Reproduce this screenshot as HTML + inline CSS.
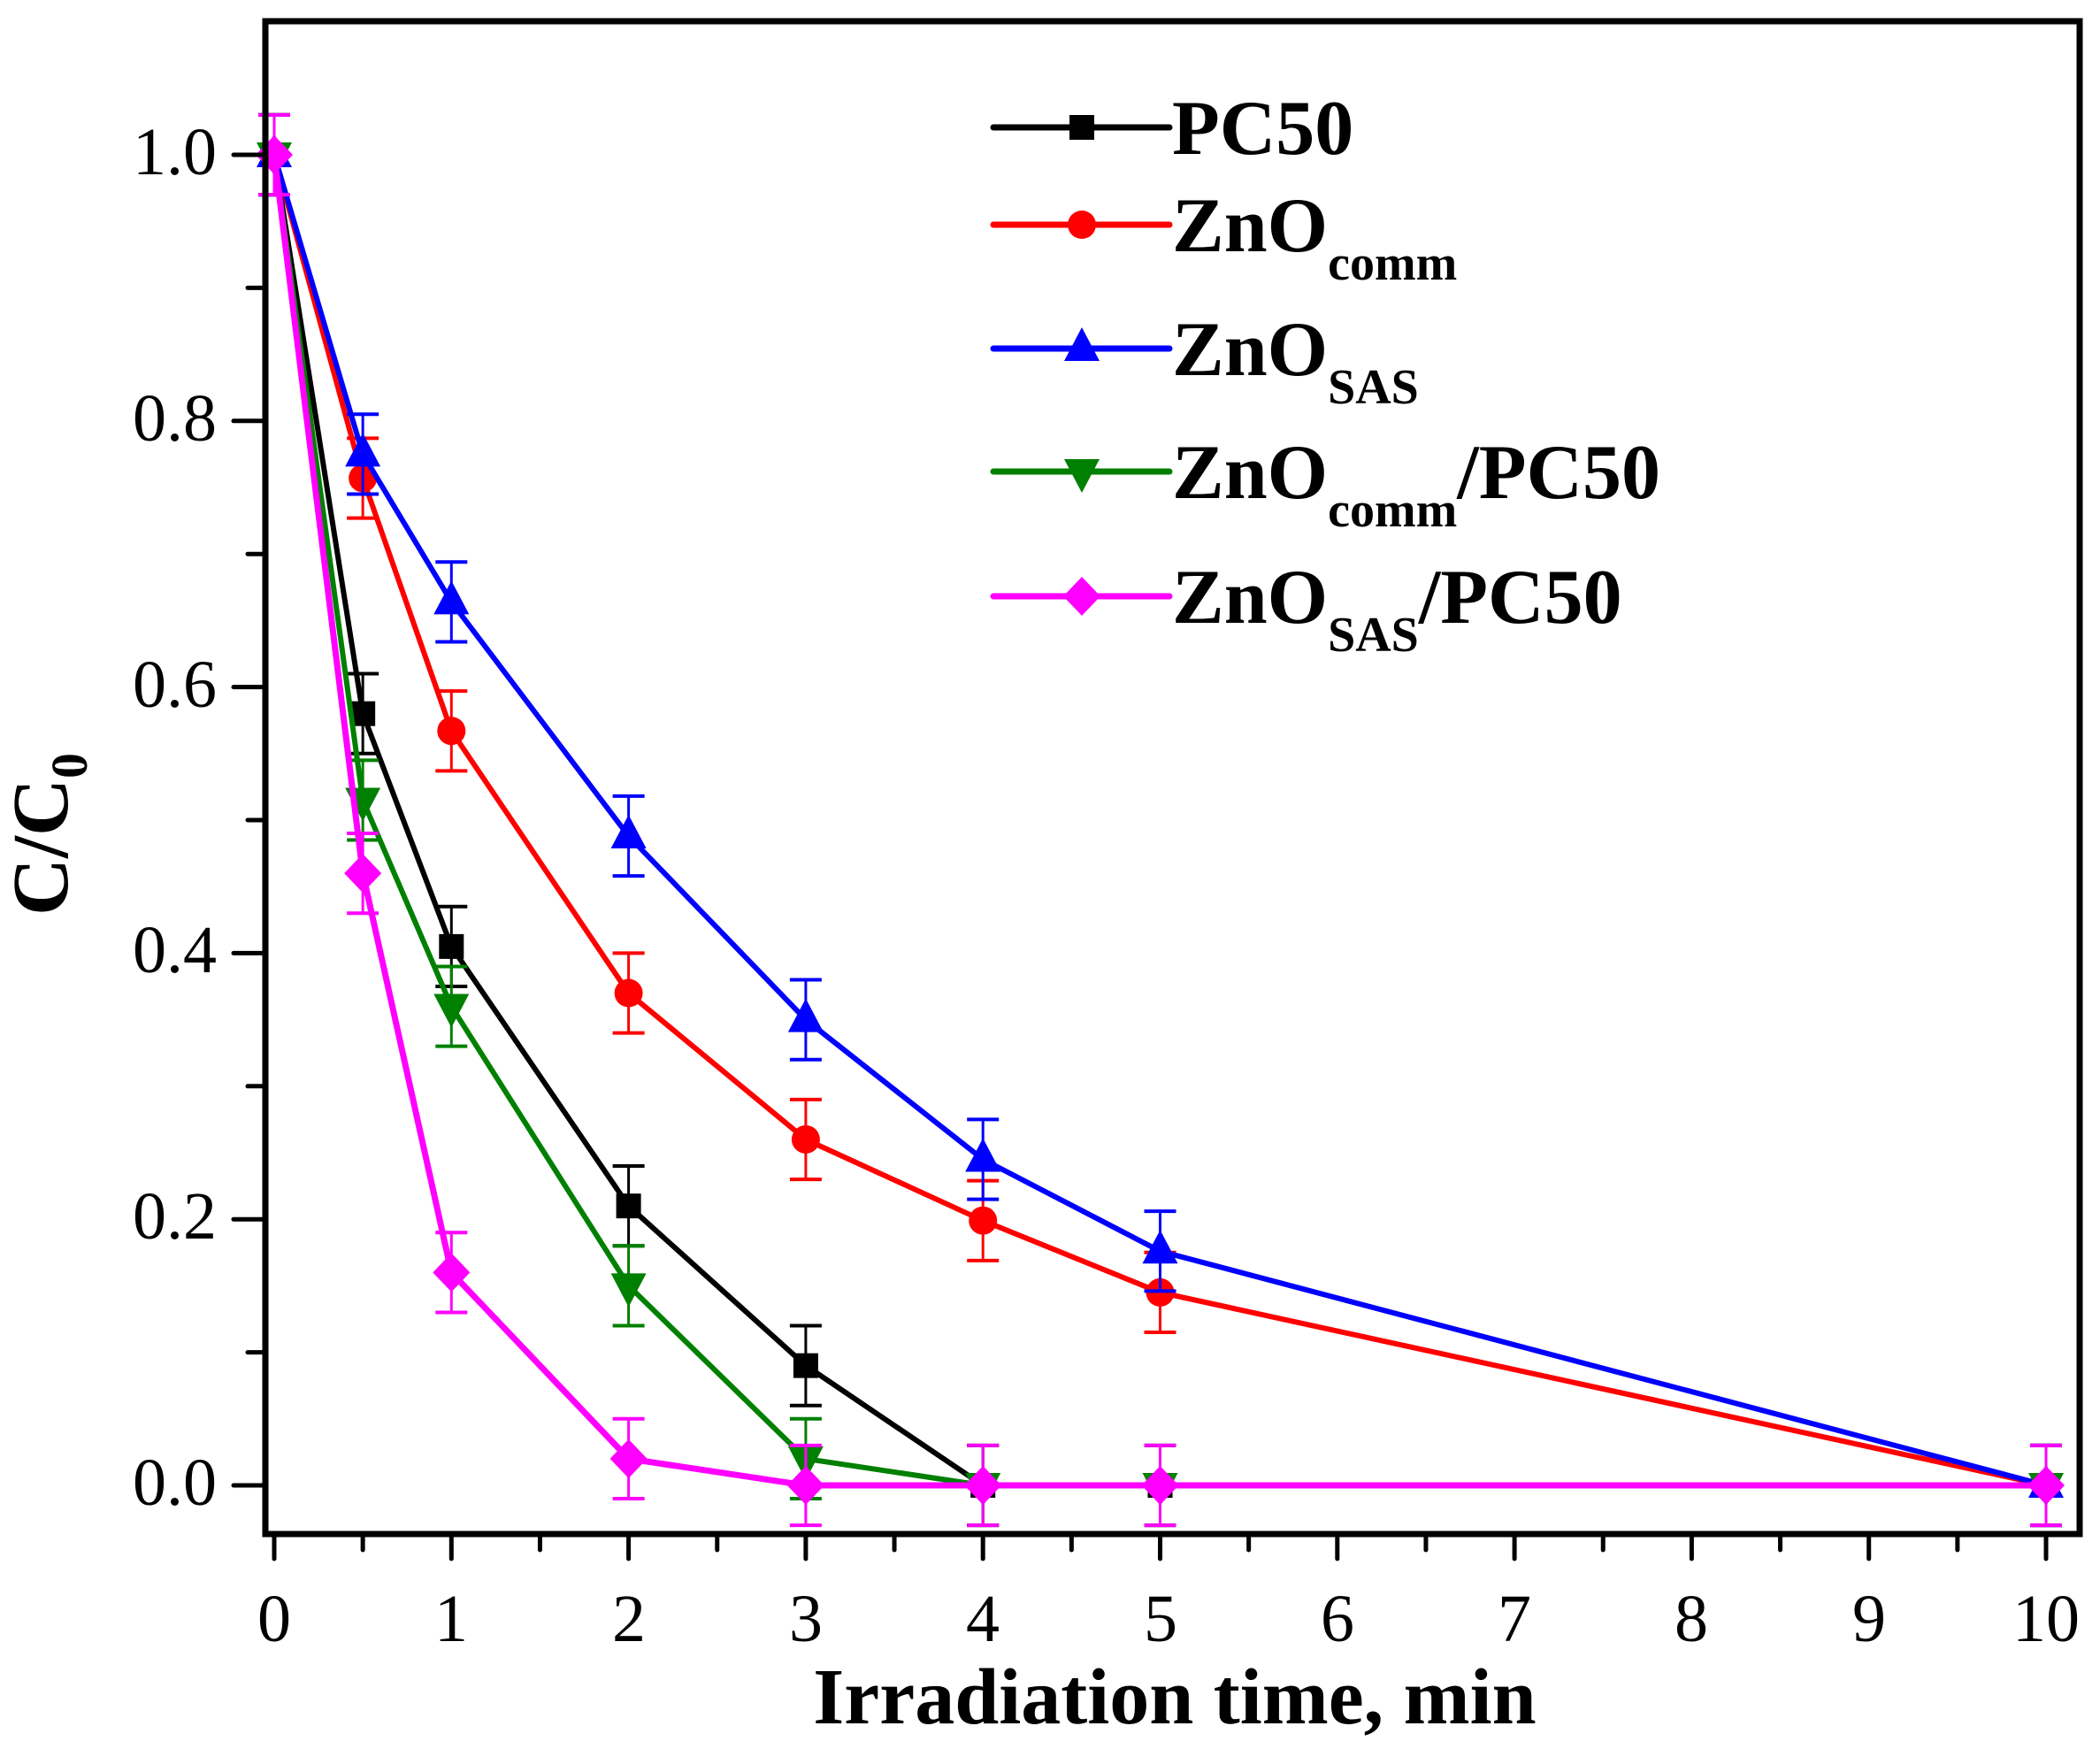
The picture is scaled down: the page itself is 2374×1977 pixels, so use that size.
<!DOCTYPE html>
<html><head><meta charset="utf-8"><style>
html,body{margin:0;padding:0;background:#fff}
svg{display:block}
text{font-family:"Liberation Serif","Times New Roman",serif}
</style></head><body>
<svg id="s" width="2374" height="1977" viewBox="0 0 2374 1977" xmlns="http://www.w3.org/2000/svg" font-family="Liberation Serif, Times New Roman, serif">
<rect width="2374" height="1977" fill="#fff"/>
<g id="plot"></g>
<rect x="300" y="24" width="2051" height="1710" fill="none" stroke="#000" stroke-width="7"/>
<g id="ticks" stroke="#000" stroke-width="5" stroke-linecap="round"></g>
<g font-size="76" text-anchor="end" font-family="Liberation Serif, serif">
<text x="245" y="197">1.0</text>
<text x="245" y="498">0.8</text>
<text x="245" y="799">0.6</text>
<text x="245" y="1099">0.4</text>
<text x="245" y="1400">0.2</text>
<text x="245" y="1701">0.0</text>
</g>
<g font-size="76" text-anchor="middle" font-family="Liberation Serif, serif">
<text x="310" y="1855">0</text>
<text x="510" y="1855">1</text>
<text x="711" y="1855">2</text>
<text x="911" y="1855">3</text>
<text x="1111" y="1855">4</text>
<text x="1312" y="1855">5</text>
<text x="1512" y="1855">6</text>
<text x="1712" y="1855">7</text>
<text x="1912" y="1855">8</text>
<text x="2113" y="1855">9</text>
<text x="2313" y="1855">10</text>
</g>
<text x="1328" y="1948" font-size="90" font-weight="bold" text-anchor="middle" font-family="Liberation Serif, serif">Irradiation time, min</text>
<text transform="translate(76,1035) rotate(-90)" font-size="90" font-weight="bold" font-family="Liberation Serif, serif">C/C<tspan font-size="58" dy="22">0</tspan></text>
<g id="legend"></g>
<g font-size="88" font-weight="bold" font-family="Liberation Serif, serif">
<text x="1325" y="174">PC50</text>
<text x="1325" y="284">ZnO<tspan font-size="56" dy="32">comm</tspan></text>
<text x="1325" y="424">ZnO<tspan font-size="56" dy="32">SAS</tspan></text>
<text x="1325" y="563">ZnO<tspan font-size="56" dy="32">comm</tspan><tspan dy="-32">/PC50</tspan></text>
<text x="1325" y="704">ZnO<tspan font-size="56" dy="32">SAS</tspan><tspan dy="-32">/PC50</tspan></text>
</g>
</svg>
<script>
var NS="http://www.w3.org/2000/svg";
function el(p,t,a){var e=document.createElementNS(NS,t);for(var k in a)e.setAttribute(k,a[k]);p.appendChild(e);return e;}
function X(v){return 310+v*200.3;}
function Y(v){return 1679-v*1504;}
var tk=document.getElementById('ticks');
for(var i=0;i<=20;i++){var v=i*0.5;var maj=(i%2==0);el(tk,'line',{x1:X(v),x2:X(v),y1:1737,y2:maj?1762:1752});}
for(var i=0;i<=10;i++){var v=i*0.1;var maj=(i%2==0);el(tk,'line',{x1:maj?264:280,x2:297,y1:Y(v),y2:Y(v)});}
var xs=[0,0.5,1,2,3,4,5,10];
var S=[
 {c:'#000',m:'sq',d:[1,0.58,0.405,0.21,0.09,0,0,0]},
 {c:'#f00',m:'ci',d:[1,0.757,0.567,0.37,0.26,0.199,0.145,0]},
 {c:'#00f',m:'tu',d:[1,0.775,0.664,0.488,0.35,0.245,0.176,0]},
 {c:'#008000',m:'td',d:[1,0.515,0.36,0.15,0.02,0,0,0]},
 {c:'#f0f',m:'di',d:[1,0.46,0.16,0.02,0,0,0,0]}
];
var g=document.getElementById('plot');
function marker(p,m,x,y,c){
 if(m=='sq')el(p,'rect',{x:x-14,y:y-14,width:28,height:28,fill:c});
 else if(m=='ci')el(p,'circle',{cx:x,cy:y,r:16,fill:c});
 else if(m=='tu')el(p,'polygon',{points:(x-20)+','+(y+14)+' '+(x+20)+','+(y+14)+' '+x+','+(y-24),fill:c});
 else if(m=='td')el(p,'polygon',{points:(x-20)+','+(y-14)+' '+(x+20)+','+(y-14)+' '+x+','+(y+24),fill:c});
 else el(p,'polygon',{points:(x-21)+','+y+' '+x+','+(y-22)+' '+(x+21)+','+y+' '+x+','+(y+22),fill:c});
}
S.forEach(function(s){
 var pts=s.d.map(function(v,i){return X(xs[i])+','+Y(v);}).join(' ');
 el(g,'polyline',{points:pts,fill:'none',stroke:s.c,'stroke-width':s.c=='#f0f'?7:6,'stroke-linejoin':'round'});
 s.d.forEach(function(v,i){var x=X(xs[i]),y1=Y(v+0.03),y2=Y(v-0.03);
  el(g,'line',{x1:x,x2:x,y1:y1,y2:y2,stroke:s.c,'stroke-width':3});
  el(g,'line',{x1:x-18,x2:x+18,y1:y1,y2:y1,stroke:s.c,'stroke-width':4});
  el(g,'line',{x1:x-18,x2:x+18,y1:y2,y2:y2,stroke:s.c,'stroke-width':4});
  marker(g,s.m,x,Y(v),s.c);});
});
var lg=document.getElementById('legend');var ly=[144,254,394,533,674];
S.forEach(function(s,i){el(lg,'line',{x1:1123,x2:1322,y1:ly[i],y2:ly[i],stroke:s.c,'stroke-width':7,'stroke-linecap':'round'});marker(lg,s.m,1223,ly[i],s.c);});
</script>
</body></html>
